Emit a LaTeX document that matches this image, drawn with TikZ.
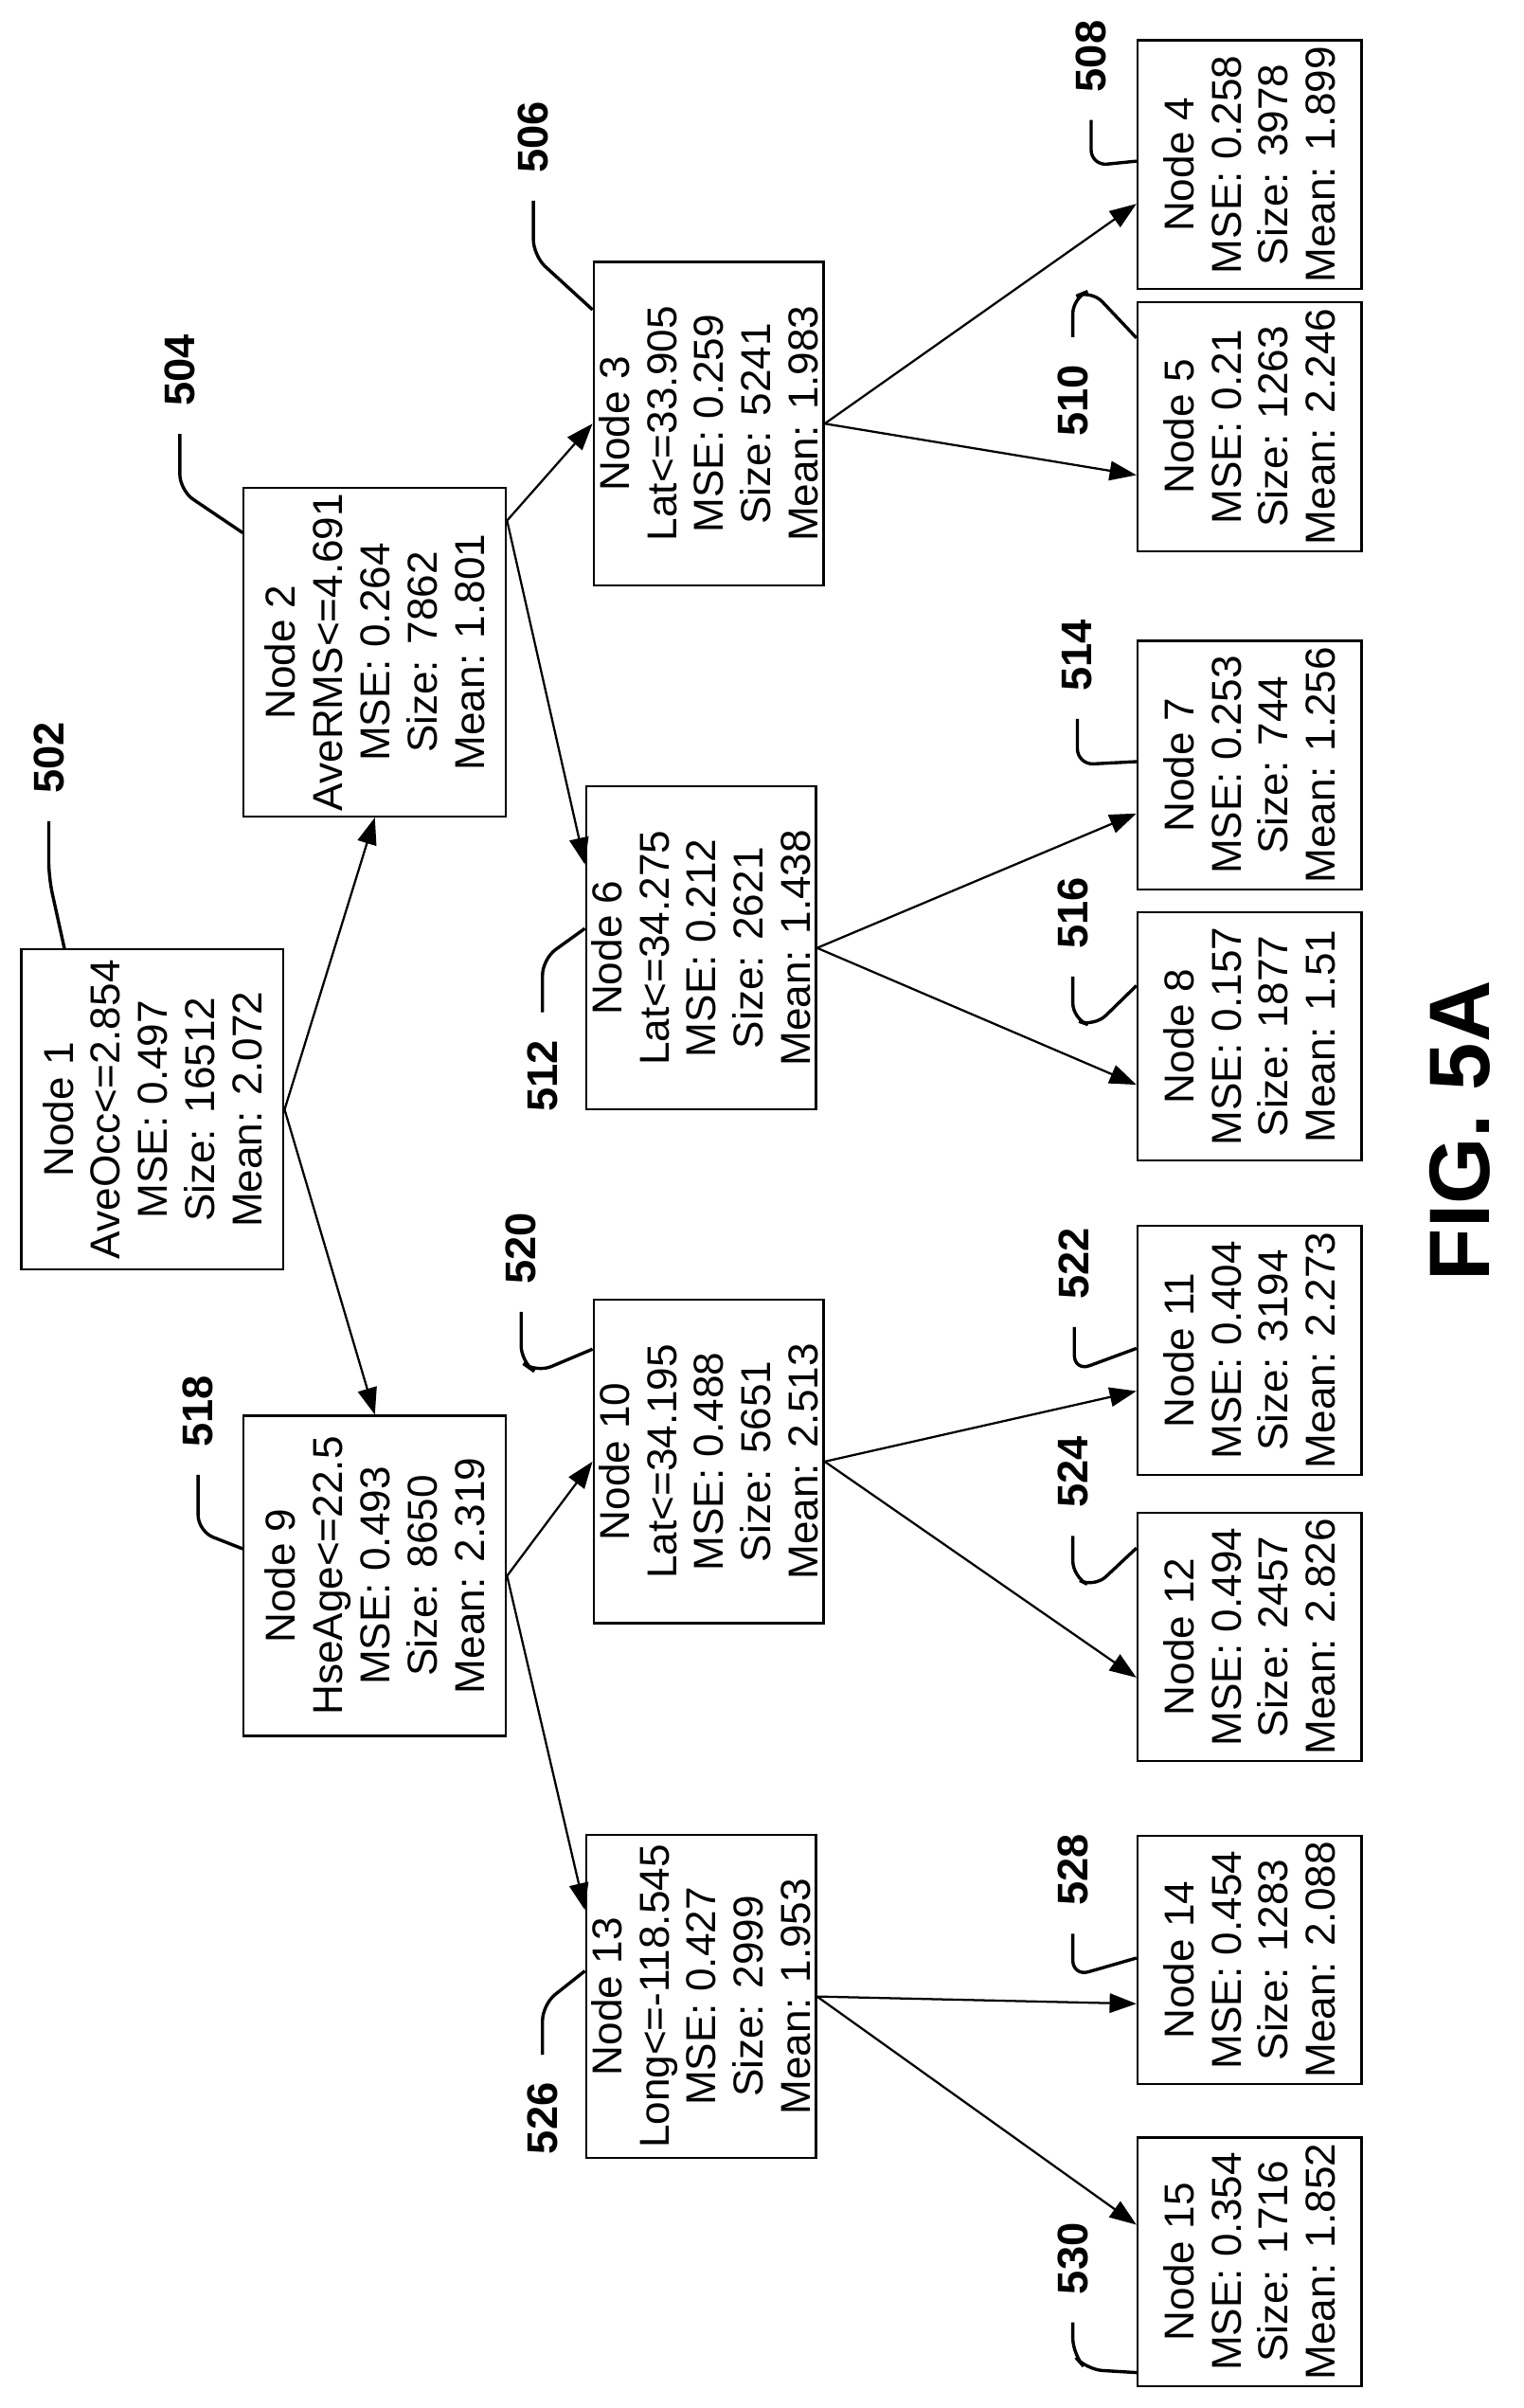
\documentclass[tikz,border=0pt]{standalone}
\usepackage{fontspec}
\setmainfont{Liberation Sans}
\usetikzlibrary{arrows.meta,calc}

\tikzset{
  box/.style={draw, rotate=90, align=center, inner sep=1pt,
    font=\fontsize{7.8}{8.8}\selectfont},
  inner/.style={box, minimum width=2.1cm, minimum height=1.72cm},
  mid/.style={box, minimum width=2.12cm, minimum height=1.49cm},
  leaf/.style={box, minimum width=1.63cm, minimum height=1.47cm},
  num/.style={rotate=90, inner sep=5pt, font=\fontsize{8}{8}\selectfont\bfseries},
  arr/.style={-{Triangle[length=5pt,width=3.6pt]}, thin},
  lead/.style={semithick, rounded corners=3pt},
}

\begin{document}
\begin{tikzpicture}[x=0.01cm, y=-0.01cm]
        \useasboundingbox (0,0) rectangle (1000,1580);

        % Nodes
        \node[inner] at (100, 728)   (n1)  {Node 1\\AveOcc<=2.854\\MSE: 0.497\\Size: 16512\\Mean: 2.072};
        \node[inner] at (246, 428)   (n2)  {Node 2\\AveRMS<=4.691\\MSE: 0.264\\Size: 7862\\Mean: 1.801};
        \node[inner] at (246, 1034)  (n9)  {Node 9\\HseAge<=22.5\\MSE: 0.493\\Size: 8650\\Mean: 2.319};
        \node[mid]   at (465, 278)   (n3)  {Node 3\\Lat<=33.905\\MSE: 0.259\\Size: 5241\\Mean: 1.983};
        \node[mid]   at (460, 622)   (n6)  {Node 6\\Lat<=34.275\\MSE: 0.212\\Size: 2621\\Mean: 1.438};
        \node[mid]   at (465, 959)   (n10) {Node 10\\Lat<=34.195\\MSE: 0.488\\Size: 5651\\Mean: 2.513};
        \node[mid]   at (460, 1310)  (n13) {Node 13\\Long<=-118.545\\MSE: 0.427\\Size: 2999\\Mean: 1.953};
        \node[leaf]  at (820, 108)   (n4)  {Node 4\\MSE: 0.258\\Size: 3978\\Mean: 1.899};
        \node[leaf]  at (820, 280)   (n5)  {Node 5\\MSE: 0.21\\Size: 1263\\Mean: 2.246};
        \node[leaf]  at (820, 502)   (n7)  {Node 7\\MSE: 0.253\\Size: 744\\Mean: 1.256};
        \node[leaf]  at (820, 680)   (n8)  {Node 8\\MSE: 0.157\\Size: 1877\\Mean: 1.51};
        \node[leaf]  at (820, 886)   (n11) {Node 11\\MSE: 0.404\\Size: 3194\\Mean: 2.273};
        \node[leaf]  at (820, 1074)  (n12) {Node 12\\MSE: 0.494\\Size: 2457\\Mean: 2.826};
        \node[leaf]  at (820, 1286)  (n14) {Node 14\\MSE: 0.454\\Size: 1283\\Mean: 2.088};
        \node[leaf]  at (820, 1484)  (n15) {Node 15\\MSE: 0.354\\Size: 1716\\Mean: 1.852};

        % Reference numerals
        \node[num] at (32, 497)   (l502) {502};
        \node[num] at (118, 243)  (l504) {504};
        \node[num] at (350, 90)   (l506) {506};
        \node[num] at (716, 37)   (l508) {508};
        \node[num] at (704, 263)  (l510) {510};
        \node[num] at (356, 706)  (l512) {512};
        \node[num] at (707, 430)  (l514) {514};
        \node[num] at (704, 599)  (l516) {516};
        \node[num] at (130, 926)  (l518) {518};
        \node[num] at (342, 819)  (l520) {520};
        \node[num] at (705, 829)  (l522) {522};
        \node[num] at (704, 966)  (l524) {524};
        \node[num] at (356, 1390) (l526) {526};
        \node[num] at (704, 1227) (l528) {528};
        \node[num] at (704, 1482) (l530) {530};
        \node[rotate=90, font=\fontsize{16}{16}\selectfont\bfseries] at (958, 742) (fig) {FIG. 5A};

        % Branches
        \draw[arr] (n1.south) -- (n2.west);
        \draw[arr] (n1.south) -- (n9.east);
        \draw[arr] ($(n2.south east)+(0,22)$) -- (n3.north);
        \draw[arr] ($(n2.south east)+(0,22)$) -- ($(n6.north east)+(0,52)$);
        \draw[arr] (n9.south) -- (n10.north);
        \draw[arr] (n9.south) -- ($(n13.north east)+(0,50)$);
        \draw[arr] (n3.south) -- ($(n4.north east)+(0,108)$);
        \draw[arr] (n3.south) -- ($(n5.north east)+(0,114)$);
        \draw[arr] (n6.south) -- ($(n7.north east)+(0,114)$);
        \draw[arr] (n6.south) -- ($(n8.north east)+(0,114)$);
        \draw[arr] (n10.south) -- ($(n11.north east)+(0,109)$);
        \draw[arr] (n10.south) -- ($(n12.north east)+(0,109)$);
        \draw[arr] (n13.south) -- ($(n14.north east)+(0,111)$);
        \draw[arr] (n13.south) -- ($(n15.north east)+(0,58)$);

        % Leaders
        \draw[lead] (l502.west) -- ++(0,37) -- ($(n1.north east)+(29,0)$);
        \draw[lead] (l504.west) -- ++(0,37) -- ($(n2.north east)+(0,30)$);
        \draw[lead] (l506.west) -- ++(0,36) -- ($(n3.north east)+(0,32)$);
        \draw[lead] (l508.west) -- ++(0,30) -- ($(n4.north east)+(0,80)$);
        \draw[lead] (l510.east) -- ++(0,-26) -- ++(12,-5) -- ($(n5.north east)+(0,24)$);
        \draw[lead] (l512.east) -- ++(0,-35) -- ($(n6.north east)+(0,94)$);
        \draw[lead] (l514.west) -- ++(0,30) -- ($(n7.north east)+(0,80)$);
        \draw[lead] (l516.west) -- ++(0,28) -- ++(14,5) -- ($(n8.north east)+(0,49)$);
        \draw[lead] (l518.west) -- ++(0,37) -- ($(n9.north east)+(0,88)$);
        \draw[lead] (l520.west) -- ++(0,33) -- ++(10,7) -- ($(n10.north east)+(0,33)$);
        \draw[lead] (l522.west) -- ++(0,29) -- ($(n11.north east)+(0,81)$);
        \draw[lead] (l524.west) -- ++(0,27) -- ++(14,7) -- ($(n12.north east)+(0,24)$);
        \draw[lead] (l526.east) -- ++(0,-33) -- ($(n13.north east)+(0,90)$);
        \draw[lead] (l528.west) -- ++(0,28) -- ($(n14.north east)+(0,81)$);
        \draw[lead] (l530.west) -- ++(0,21) -- ++(9,10) -- ($(n15.north east)+(0,155)$);
\end{tikzpicture}
\end{document}
